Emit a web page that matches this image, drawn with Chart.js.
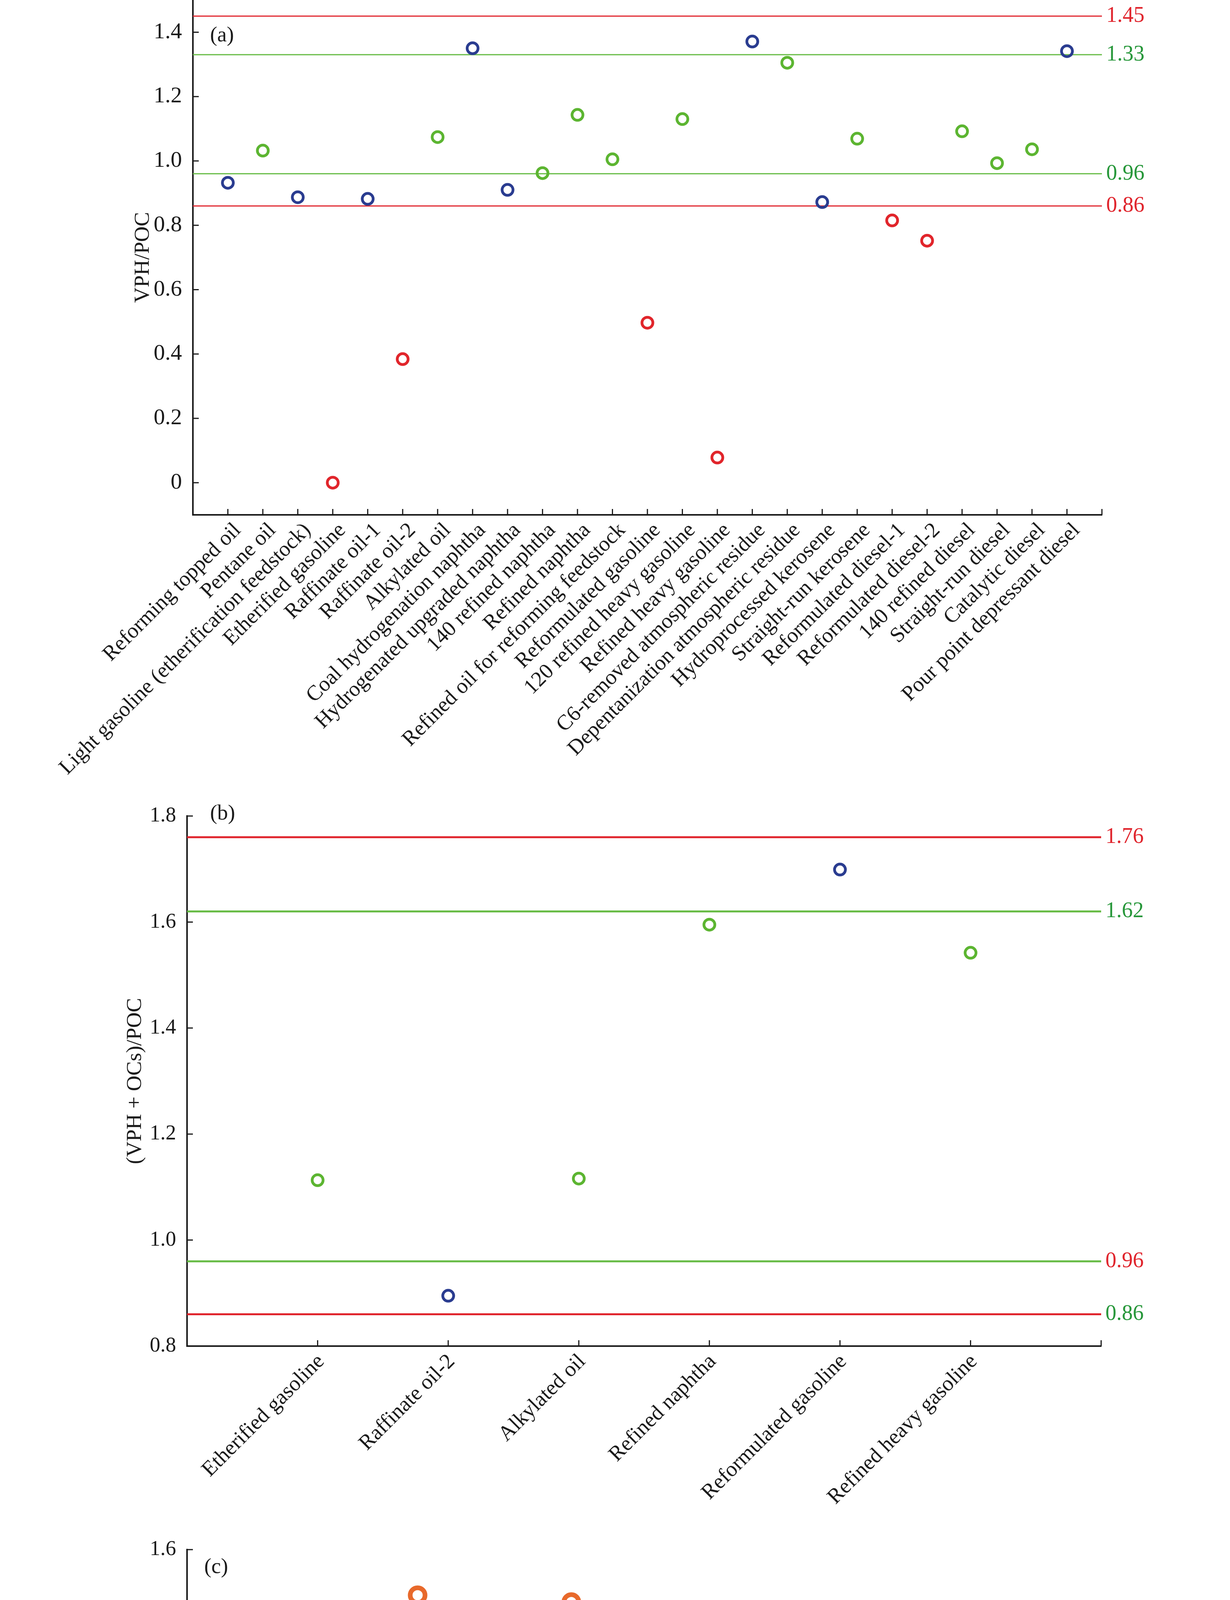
<!DOCTYPE html>
<html>
<head>
<meta charset="utf-8">
<script src="https://cdn.jsdelivr.net/npm/chart.js@4/dist/chart.umd.min.js"></script>
<style>
    html, body { margin: 0; padding: 0; background: #ffffff; }
    body { width: 3150px; height: 5918px; position: relative; overflow: hidden; }
    canvas { position: absolute; left: 0; }
</style>
</head>
<body>
<canvas id="panel-a" width="3150" height="2050" style="top: 0px"></canvas>
<canvas id="panel-b" width="3150" height="1850" style="top: 2050px"></canvas>
<canvas id="panel-c" width="3150" height="2018" style="top: 3900px"></canvas>
<script>
// (a) VPH/POC
const productosA = [
    "Reforming topped oil", "Pentane oil", "Light gasoline (etherification feedstock)", "Etherified gasoline",
    "Raffinate oil-1", "Raffinate oil-2", "Alkylated oil", "Coal hydrogenation naphtha",
    "Hydrogenated upgraded naphtha", "140 refined naphtha", "Refined naphtha", "Refined oil for reforming feedstock",
    "Reformulated gasoline", "120 refined heavy gasoline", "Refined heavy gasoline", "C6-removed atmospheric residue",
    "Depentanization atmospheric residue", "Hydroprocessed kerosene", "Straight-run kerosene", "Reformulated diesel-1",
    "Reformulated diesel-2", "140 refined diesel", "Straight-run diesel", "Catalytic diesel", "Pour point depressant diesel"
];
const vphPoc = [0.932, 1.032, 0.887, 0.0, 0.882, 0.384, 1.074, 1.350, 0.910, 0.962, 1.143, 1.005, 0.497,
    1.130, 0.078, 1.371, 1.305, 0.872, 1.069, 0.815, 0.752, 1.092, 0.993, 1.036, 1.341];
const limitesA = [1.45, 1.33, 0.96, 0.86];
const ticksA = [0, 0.2, 0.4, 0.6, 0.8, 1.0, 1.2, 1.4];

// (b) (VPH + OCs)/POC
const productosB = ["Etherified gasoline", "Raffinate oil-2", "Alkylated oil", "Refined naphtha", "Reformulated gasoline", "Refined heavy gasoline"];
const vphOcsPoc = [1.113, 0.895, 1.116, 1.595, 1.699, 1.542];
const limitesB = [1.76, 1.62, 0.96, 0.86];
const ticksB = [0.8, 1.0, 1.2, 1.4, 1.6, 1.8];

// (c) EPH/NPOC
const productosC = ["Reforming topped oil", "Pentane oil", "Light gasoline (etherification feedstock)", "Etherified gasoline", "Raffinate oil-1", "Raffinate oil-2"];
const ephNpoc = [1.045, 1.480, 1.462, 0.394, 0.778, 0.397];
const ticksC = [0.4, 0.6, 0.8, 1.0, 1.2, 1.4, 1.6];

// colores
const AZUL = "#2a3c90";
const VERDE = "#5cb531";
const ROJO = "#e1252b";
const NARANJA = "#e8692b";
const LINEA_VERDE = "#66bb44";
const LINEA_ROJA = "#e0252d";
const TEXTO_VERDE = "#27973a";
const TEXTO_ROJO = "#e0252d";
const NEGRO = "#1a1a1a";

Chart.defaults.font.family = "'Liberation Serif', 'Times New Roman', serif";
Chart.defaults.color = NEGRO;

// limites: [alto exterior, alto interior, bajo interior, bajo exterior]
function colorPunto(valor, limites) {
    if (valor >= limites[2] && valor <= limites[1]) return VERDE;
    if (valor >= limites[3] && valor <= limites[0]) return AZUL;
    return ROJO;
}

function formatoEje(valor) {
    return valor === 0 ? "0" : valor.toFixed(1);
}

function sinRelleno(s) {
    s.paddingTop = 0;
    s.paddingBottom = 0;
    s.paddingLeft = 0;
    s.paddingRight = 0;
}

const decoracion = {
    id: "decoracion",
    beforeDatasetsDraw(chart, args, opts) {
        const { ctx, chartArea } = chart;
        const ejeY = chart.scales.y;
        (opts.limites || []).forEach((valor, i) => {
            const py = ejeY.getPixelForValue(valor);
            ctx.save();
            ctx.strokeStyle = opts.coloresLinea[i];
            ctx.lineWidth = opts.grosorLinea;
            ctx.beginPath();
            ctx.moveTo(chartArea.left, py);
            ctx.lineTo(chartArea.right, py);
            ctx.stroke();
            ctx.restore();
        });
    },
    afterDraw(chart, args, opts) {
        const { ctx, chartArea } = chart;
        const ejeX = chart.scales.x;
        const ejeY = chart.scales.y;
        const largo = 15;

        ctx.save();
        ctx.strokeStyle = NEGRO;
        ctx.lineWidth = 3;
        ctx.beginPath();
        ejeY.ticks.forEach((tick) => {
            const py = ejeY.getPixelForValue(tick.value);
            ctx.moveTo(chartArea.left, py);
            ctx.lineTo(chartArea.left + largo, py);
        });
        ejeX.ticks.forEach((tick) => {
            const px = ejeX.getPixelForValue(tick.value);
            ctx.moveTo(px, chartArea.bottom);
            ctx.lineTo(px, chartArea.bottom - largo);
        });
        if (opts.tickFinal) {
            ctx.moveTo(chartArea.right, chartArea.bottom);
            ctx.lineTo(chartArea.right, chartArea.bottom - largo);
        }
        ctx.stroke();

        ctx.font = "56px 'Liberation Serif'";
        ctx.textAlign = "left";
        ctx.textBaseline = "middle";
        (opts.limites || []).forEach((valor, i) => {
            ctx.fillStyle = opts.coloresTexto[i];
            ctx.fillText(valor.toFixed(2), chartArea.right + 11, ejeY.getPixelForValue(valor));
        });

        ctx.fillStyle = NEGRO;
        ctx.font = "55px 'Liberation Serif'";
        ctx.fillText(opts.letra, chartArea.left + opts.letraX, chartArea.top + opts.letraY);
        ctx.restore();
    }
};

function crearPanel(id, productos, valores, colores, ejes, extra) {
    const ctx = document.getElementById(id);
    return new Chart(ctx, {
        type: "scatter",
        data: {
            datasets: [{
                data: valores.map((v, i) => ({ x: i + 1, y: v })),
                showLine: false,
                pointStyle: "circle",
                pointRadius: extra.radio,
                pointBorderWidth: extra.borde,
                pointBackgroundColor: "rgba(0, 0, 0, 0)",
                pointBorderColor: colores,
                clip: false
            }]
        },
        options: {
            responsive: false,
            devicePixelRatio: 1,
            animation: false,
            layout: {
                autoPadding: false,
                padding: { left: 0, right: extra.derecha, top: extra.arriba, bottom: 0 }
            },
            plugins: {
                legend: { display: false },
                tooltip: { enabled: false },
                decoracion: extra.decoracion
            },
            scales: {
                x: {
                    type: "linear",
                    min: ejes.xMin,
                    max: ejes.xMax,
                    afterBuildTicks: (s) => { s.ticks = productos.map((p, i) => ({ value: i + 1 })); },
                    afterFit: (s) => { s.height = extra.altoEjeX; sinRelleno(s); },
                    grid: { display: false },
                    border: { display: true, color: NEGRO, width: 4 },
                    ticks: {
                        autoSkip: false,
                        minRotation: 45,
                        maxRotation: 45,
                        padding: 0,
                        labelOffset: extra.desplazamientoX,
                        color: NEGRO,
                        font: { size: 55 },
                        callback: (v) => productos[v - 1] ?? ""
                    }
                },
                y: {
                    type: "linear",
                    min: ejes.yMin,
                    max: ejes.yMax,
                    afterBuildTicks: (s) => { s.ticks = ejes.ticks.map((v) => ({ value: v })); },
                    afterFit: (s) => { s.width = extra.anchoEjeY; sinRelleno(s); },
                    grid: { display: false },
                    border: { display: true, color: NEGRO, width: 4 },
                    title: {
                        display: true,
                        text: ejes.titulo,
                        color: NEGRO,
                        font: { size: 55 },
                        padding: { top: extra.tituloX - 33, bottom: 0 }
                    },
                    ticks: {
                        padding: 20,
                        color: NEGRO,
                        font: { size: extra.fuenteY },
                        callback: formatoEje
                    }
                }
            }
        },
        plugins: [decoracion]
    });
}

crearPanel("panel-a", productosA, vphPoc, vphPoc.map((v) => colorPunto(v, limitesA)),
    { xMin: 0, xMax: productosA.length + 1, yMin: -0.1, yMax: 1.5, ticks: ticksA, titulo: "VPH/POC" },
    {
        radio: 14, borde: 7, derecha: 328, arriba: 0, altoEjeX: 732, anchoEjeY: 494,
        desplazamientoX: 25, fuenteY: 58, tituloX: 367,
        decoracion: {
            limites: limitesA,
            coloresLinea: [LINEA_ROJA, LINEA_VERDE, LINEA_VERDE, LINEA_ROJA],
            coloresTexto: [TEXTO_ROJO, TEXTO_VERDE, TEXTO_VERDE, TEXTO_ROJO],
            grosorLinea: 3, tickFinal: true, letra: "(a)", letraX: 44, letraY: 92
        }
    });

crearPanel("panel-b", productosB, vphOcsPoc, vphOcsPoc.map((v) => colorPunto(v, limitesB)),
    { xMin: 0, xMax: productosB.length + 1, yMin: 0.8, yMax: 1.8, ticks: ticksB, titulo: "(VPH + OCs)/POC" },
    {
        radio: 14, borde: 7, derecha: 330, arriba: 39, altoEjeX: 454, anchoEjeY: 479,
        desplazamientoX: 9, fuenteY: 54, tituloX: 347,
        decoracion: {
            limites: limitesB,
            coloresLinea: [LINEA_ROJA, LINEA_VERDE, LINEA_VERDE, LINEA_ROJA],
            coloresTexto: [TEXTO_ROJO, TEXTO_VERDE, TEXTO_ROJO, TEXTO_VERDE],
            grosorLinea: 5, tickFinal: true, letra: "(b)", letraX: 59, letraY: -5
        }
    });

crearPanel("panel-c", productosC, ephNpoc, ephNpoc.map(() => NARANJA),
    { xMin: 0.5, xMax: productosC.length + 0.5, yMin: 0.3, yMax: 1.6, ticks: ticksC, titulo: "EPH/NPOC" },
    {
        radio: 19, borde: 12, derecha: 309, arriba: 67, altoEjeX: 686, anchoEjeY: 479,
        desplazamientoX: 25, fuenteY: 54, tituloX: 347,
        decoracion: {
            limites: [], coloresLinea: [], coloresTexto: [],
            grosorLinea: 0, tickFinal: false, letra: "(c)", letraX: 44, letraY: 46
        }
    });
</script>
</body>
</html>
